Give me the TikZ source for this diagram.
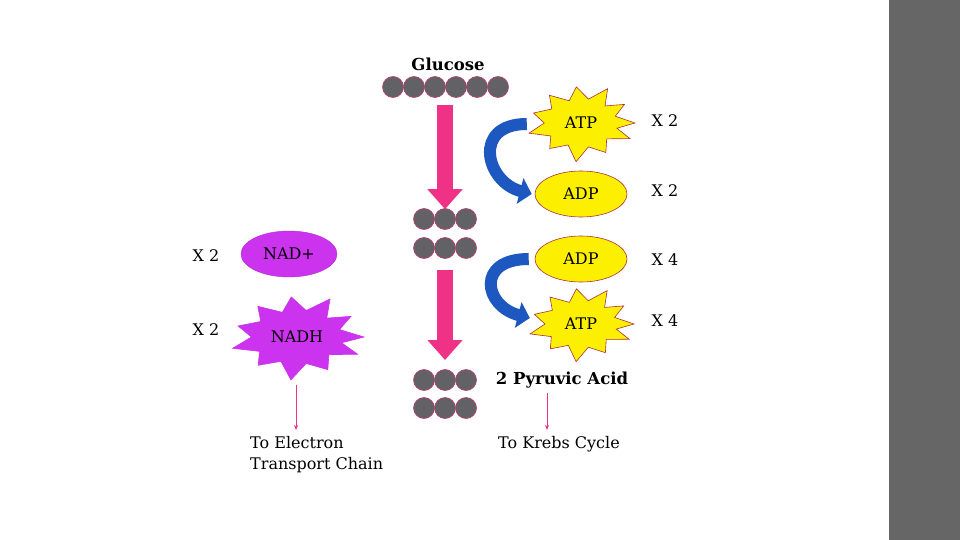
\documentclass[tikz,border=0pt]{standalone}
\usepackage{fontspec}
\setmainfont{DejaVu Serif}
\usetikzlibrary{arrows.meta,calc,shapes.geometric}
\definecolor{pinkA}{RGB}{240,50,135}
\definecolor{ballgrey}{RGB}{98,98,102}
\definecolor{ballrim}{RGB}{190,60,110}
\definecolor{sunY}{RGB}{252,240,0}
\definecolor{sunRim}{RGB}{170,50,60}
\definecolor{mag}{RGB}{204,51,238}
\definecolor{blueA}{RGB}{28,88,192}
\definecolor{barGrey}{RGB}{102,102,102}
\newcommand\burst[6]{%
  \filldraw[fill=#5,draw=#6,line width=0.6pt]
    ($(#1,#2)+(0:#3pt and #4pt)$)
    \foreach \a/\f in {16/0.66,32/0.95,46/0.64,62/1.05,78/0.66,95/0.98,110/0.64,128/0.95,145/0.66,163/0.92,180/0.68,196/1.0,212/0.66,230/0.9,248/0.64,265/1.05,282/0.66,300/0.92,318/0.64,335/1.0,348/0.68}
    { -- ($(#1,#2)+(\a:{\f*#3pt} and {\f*#4pt})$) } -- cycle;}
\begin{document}
\begin{tikzpicture}[x=1pt,y=-1pt,
  ball/.style={circle, fill=ballgrey, draw=ballrim, line width=0.6pt, minimum size=21pt, inner sep=0pt},
  lbl/.style={font=\fontsize{16}{21}\selectfont, inner sep=0pt},
  boldlbl/.style={font=\fontsize{16.5}{18}\selectfont\bfseries, inner sep=0pt},
  sunell/.style={ellipse, fill=sunY, draw=sunRim, line width=0.6pt, minimum width=92pt, minimum height=46pt, inner sep=0pt, font=\fontsize{16}{18}\selectfont},
  burstnode/.style={minimum width=108pt, minimum height=72pt, inner sep=0pt, font=\fontsize{16}{18}\selectfont},
  blockarrow/.style={pinkA, line width=16pt, -{Triangle[length=20pt,width=34pt]}},
  bluearrow/.style={blueA, line width=12pt, -{Triangle[length=12pt,width=26pt]}},
  thinarrow/.style={pinkA, line width=0.8pt, -{Stealth[length=5pt,width=4pt]}}]
\useasboundingbox (0,0) rectangle (960,540);
\fill[white] (0,0) rectangle (889,540);
\fill[barGrey] (889,0) rectangle (960,540);

% Glucose
\node[boldlbl] (glu) at (448,64) {Glucose};
\foreach \i in {1,...,6} \node[ball] (g\i) at ({393+21*(\i-1)},87) {};

% middle and bottom molecules
\foreach \i/\x in {1/424,2/445,3/466} {
  \node[ball] (m\i) at (\x,219) {};
  \node[ball] (n\i) at (\x,248) {};
  \node[ball] (p\i) at (\x,380) {};
  \node[ball] (q\i) at (\x,408) {};
}

% pink block arrows
\coordinate (a1s) at (445,105);
\coordinate (a2s) at (445,270);
\draw[blockarrow] (a1s) -- ([yshift=-1pt]m2.north);
\draw[blockarrow] (a2s) -- (p2.north |- 0,360);

% ATP / ADP right side
\burst{581}{123}{54}{37}{sunY}{sunRim}
\node[burstnode] (atp1) at (581,123) {ATP};
\node[sunell] (adp1) at (581,194) {ADP};
\node[sunell] (adp2) at (581,259) {ADP};
\burst{581}{324}{53}{36}{sunY}{sunRim}
\node[burstnode] (atp2) at (581,324) {ATP};

\node[lbl] (x1) at (665,121) {X 2};
\node[lbl] (x2) at (665,191) {X 2};
\node[lbl] (x3) at (665,260) {X 4};
\node[lbl] (x4) at (665,321) {X 4};

% blue curved arrows
\draw[bluearrow] ([yshift=-1pt]atp1.west) .. controls +(-55,0) and +(-46,-12) .. ([xshift=-3pt]adp1.west);
\draw[bluearrow] ([xshift=-6pt]adp2.west) .. controls +(-53,0) and +(-46,-12) .. ([xshift=3pt,yshift=6pt]atp2.west);

% NAD+ / NADH
\node[lbl] (x5) at (206,256) {X 2};
\node[ellipse, fill=mag, draw=mag!85!black, line width=0.4pt, minimum width=96pt, minimum height=46pt, inner sep=0pt, font=\fontsize{16}{18}\selectfont] (nad) at (289,254) {NAD+};
\node[lbl] (x6) at (206,330) {X 2};
\burst{297}{337}{67}{41}{mag}{mag}
\node[minimum width=134pt, minimum height=80pt, inner sep=0pt, font=\fontsize{16}{18}\selectfont] (nadh) at (297,337) {NADH};

% outputs
\node[boldlbl] (pyr) at (562,380) {2 Pyruvic Acid};
\node[lbl, anchor=north] (krebs) at (559,436) {To Krebs Cycle};
\node[lbl, anchor=north west, align=left] (etc) at (250,436) {To Electron\\Transport Chain};

\coordinate (nadhtail) at (296,385);
\draw[thinarrow] (nadhtail) -- (nadhtail |- 0,430);
\coordinate (pyrtail) at (547,393);
\draw[thinarrow] (pyrtail) -- (pyrtail |- 0,430);
\end{tikzpicture}
\end{document}
